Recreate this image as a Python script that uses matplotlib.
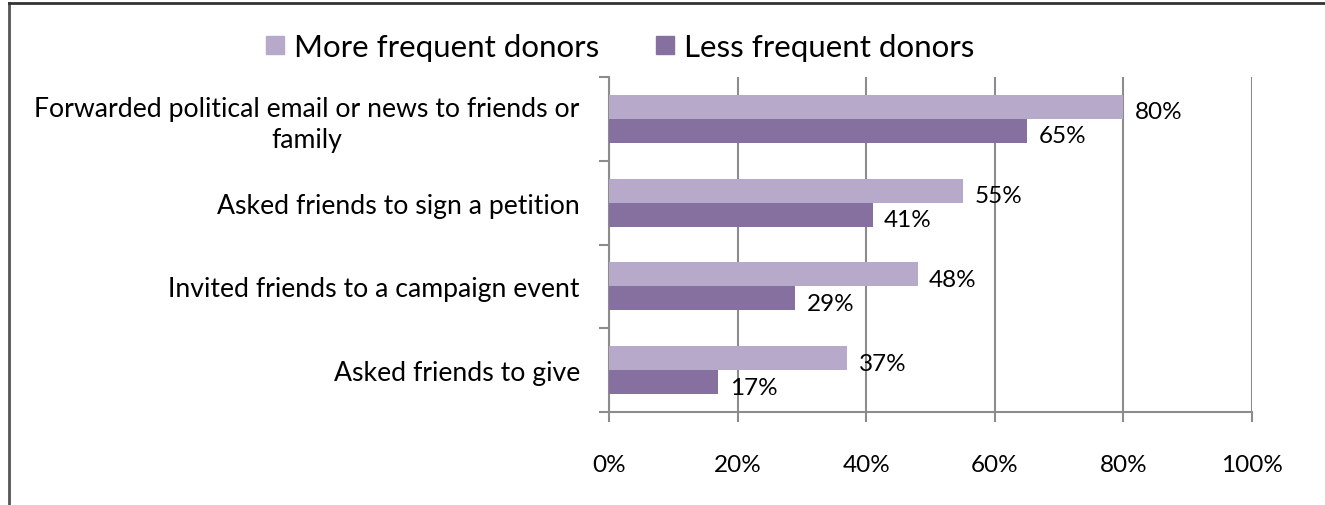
import numpy as np
import matplotlib.pyplot as plt
from matplotlib.lines import Line2D

plt.rcParams['font.family'] = ['Lato', 'DejaVu Sans']

categories = [
    "Forwarded political email or news to friends or\nfamily",
    "Asked friends to sign a petition",
    "Invited friends to a campaign event",
    "Asked friends to give",
]
more_frequent = [80, 55, 48, 37]
less_frequent = [65, 41, 29, 17]
series_names = ["More frequent donors", "Less frequent donors"]
xticks = [0, 20, 40, 60, 80, 100]

light = "#b7a9ca"
dark = "#86709f"
grid_col = "#8c8c8c"

fig = plt.figure(figsize=(13.25, 5.06), dpi=100)
ax = fig.add_axes([609 / 1325, 1 - 413 / 506, 643 / 1325, 335 / 506])

n = len(categories)
pos = np.arange(n)[::-1] + 0.5
h = 24 / 84
ax.barh(pos + h / 2, more_frequent, height=h, color=light, label=series_names[0], zorder=3)
ax.barh(pos - h / 2, less_frequent, height=h, color=dark, label=series_names[1], zorder=3)

for p, v in zip(pos, more_frequent):
    ax.text(v + 1.8, p + h / 2 - 0.06, f"{v}%", va="center", ha="left", fontsize=17.5)
for p, v in zip(pos, less_frequent):
    ax.text(v + 1.8, p - h / 2 - 0.06, f"{v}%", va="center", ha="left", fontsize=17.5)

ax.set_xlim(0, 100)
ax.set_ylim(0, n)
ax.set_xticks(xticks)
ax.set_xticklabels([f"{t}%" for t in xticks], fontsize=17.5)
ax.set_yticks(np.arange(n + 1))
ax.set_yticklabels([])
ax.set_yticks(pos, minor=True)
ax.set_yticklabels(categories, minor=True, fontsize=19.2, linespacing=1.3)
ax.tick_params(axis="y", which="minor", length=0, pad=21)
ax.tick_params(axis="y", which="major", length=7, color=grid_col, width=1.5, direction="out")
ax.tick_params(axis="x", length=7, color=grid_col, width=1.5, pad=23)
for lbl in ax.get_yticklabels(minor=True):
    lbl.set_multialignment("center")

ax.grid(axis="x", color=grid_col, linewidth=1.5, zorder=0)
for s in ["top", "right"]:
    ax.spines[s].set_visible(False)
ax.spines["left"].set_color(grid_col)
ax.spines["bottom"].set_color(grid_col)
ax.spines["left"].set_linewidth(1.5)
ax.spines["bottom"].set_linewidth(1.5)

handles = [Line2D([], [], marker="s", linestyle="none", markersize=13, color=c) for c in (light, dark)]
fig.legend(handles, series_names, loc="center", bbox_to_anchor=(617 / 1325, 1 - 48 / 506),
           ncol=2, frameon=False, fontsize=22.5, handletextpad=0.1, columnspacing=1.6,
           handlelength=1.0)

# outer frame on the top and left edges
fig.add_artist(Line2D([8.5 / 1325, 8.5 / 1325], [0, 1 - 3.5 / 506], color="#555555", lw=2))
fig.add_artist(Line2D([8.5 / 1325, 1324 / 1325], [1 - 3.5 / 506, 1 - 3.5 / 506], color="#333333", lw=2))

fig.savefig("out.png", dpi=100)
